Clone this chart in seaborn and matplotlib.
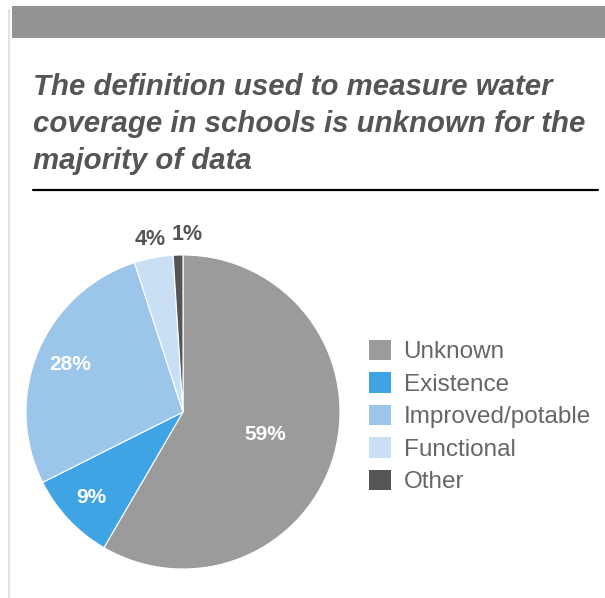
import numpy as np
import matplotlib
matplotlib.use('Agg')
import matplotlib.pyplot as plt
from matplotlib.patches import Rectangle
from matplotlib.lines import Line2D
import seaborn as sns

# data
categories = ['Unknown', 'Existence', 'Improved/potable', 'Functional', 'Other']
shares = [58.4, 9.2, 27.4, 4.0, 1.0]
pct_labels = ['59%', '9%', '28%', '4%', '1%']
colors = ['#9b9b9b', '#3fa4e3', '#9bc6ea', '#c8dff4', '#555555']

title = ('The definition used to measure water\n'
         'coverage in schools is unknown for the\n'
         'majority of data')

sns.set_theme(style='white')
plt.rcParams['font.family'] = ['Liberation Sans', 'DejaVu Sans']

W, H = 605, 598
fig = plt.figure(figsize=(W / 100, H / 100), dpi=100)
fig.patch.set_facecolor('white')

# grey header band and faint left rule
fig.patches.append(Rectangle((12 / W, 1 - 38 / H), 1, 32 / H, transform=fig.transFigure,
                             facecolor='#939393', edgecolor='none'))
fig.lines.append(Line2D([9 / W, 9 / W], [0, 1 - 10 / H], transform=fig.transFigure,
                        color='#e2e2e2', lw=1.5))

fig.text(33 / W, 1 - 73 / H, title, ha='left', va='top', fontsize=21.2,
         fontweight='bold', fontstyle='italic', color='#555555', linespacing=1.42)
fig.lines.append(Line2D([33 / W, 598 / W], [1 - 190 / H, 1 - 190 / H],
                        transform=fig.transFigure, color='black', lw=1.6))

# pie
cx, cy, r = 183, 412, 157
ax = fig.add_axes([(cx - r) / W, 1 - (cy + r) / H, 2 * r / W, 2 * r / H])
wedges, _ = ax.pie(shares, colors=colors, startangle=90, counterclock=False,
                   radius=1, wedgeprops=dict(edgecolor='white', linewidth=0.8))
ax.set_xlim(-1, 1)
ax.set_ylim(-1, 1)
ax.axis('off')

# percentage labels: inside white, outside dark
dists = [0.54, 0.80, 0.78, 1.12, 1.13]
for w, lab, d in zip(wedges, pct_labels, dists):
    mid = np.deg2rad((w.theta1 + w.theta2) / 2)
    x, y = d * np.cos(mid), d * np.sin(mid)
    inside = d < 1
    if lab == '1%':
        x += 0.06
    ax.text(x, y, lab, ha='center', va='center', fontsize=15 if inside else 15.5,
            fontweight='bold', color='white' if inside else '#555555', clip_on=False)

leg = fig.legend(wedges, categories, loc='upper left',
                 bbox_to_anchor=(369 / W, 1 - 340 / H), frameon=False,
                 fontsize=17.5, handlelength=0.9, handleheight=0.9,
                 handletextpad=0.52, labelspacing=0.37, borderaxespad=0,
                 borderpad=0)
for t in leg.get_texts():
    t.set_color('#666666')
for h in leg.legend_handles:
    h.set_edgecolor('none')

fig.savefig('out.png', dpi=100)
